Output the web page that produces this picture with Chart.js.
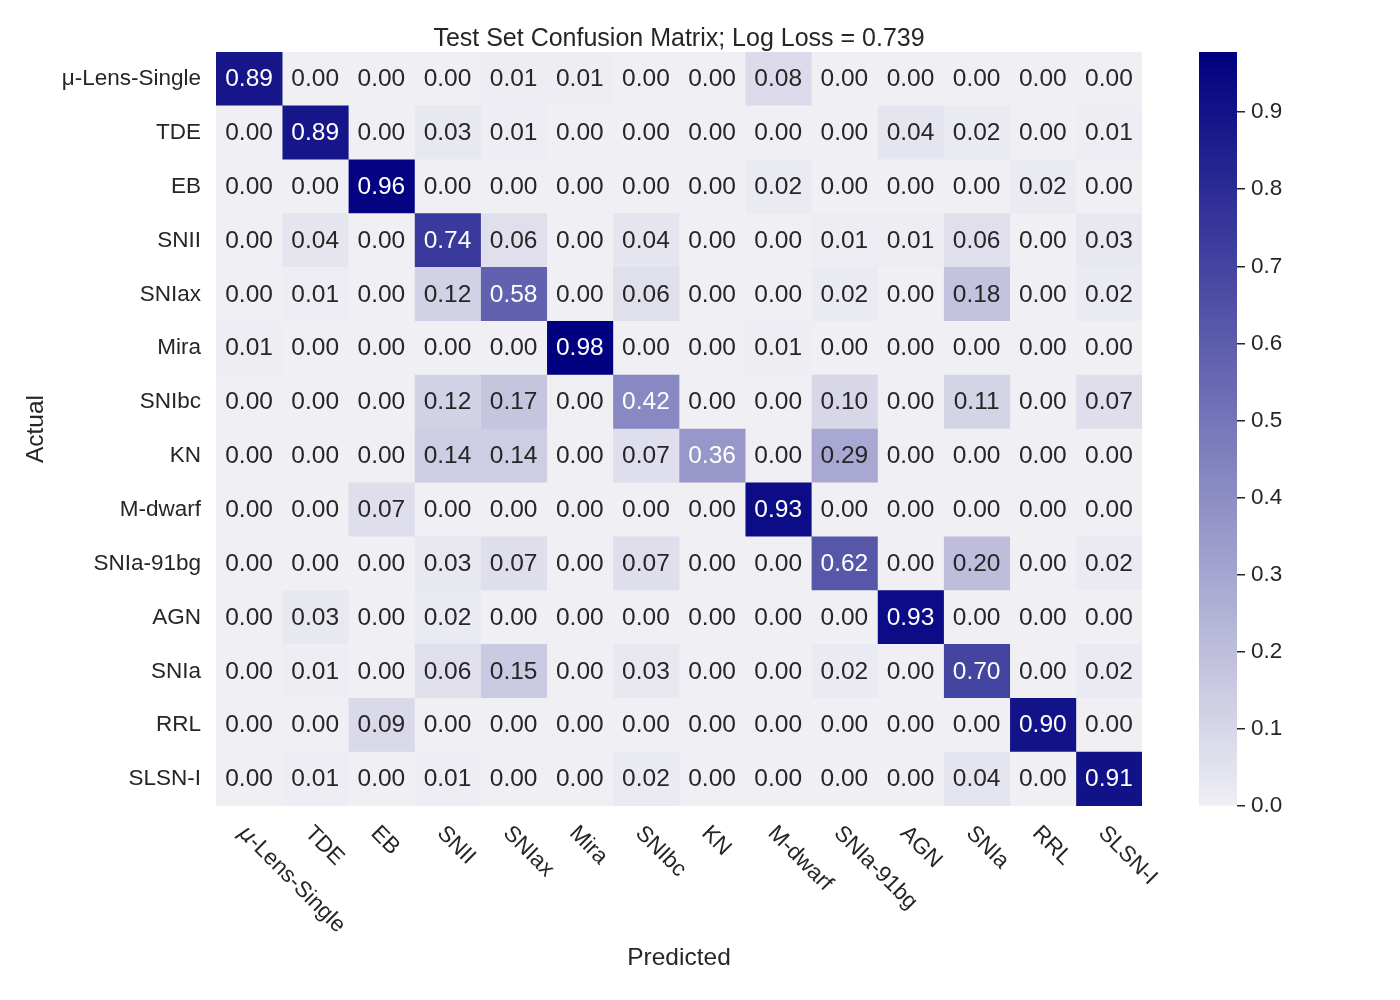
<!DOCTYPE html>
<html>
<head>
<meta charset="utf-8">
<script src="https://cdn.jsdelivr.net/npm/chart.js"></script>
<style>
  body { margin: 0; background: #fff; }
  #wrap { position: relative; width: 1400px; height: 1000px; }
  #heat { position: absolute; left: 0; top: 0; }
  #cbar { position: absolute; left: 1150px; top: 0; }
</style>
</head>
<body>
<div id="wrap">
  <canvas id="heat" width="1400" height="1000"></canvas>
  <canvas id="cbar" width="250" height="1000"></canvas>
</div>
<script>
const classes = ["μ-Lens-Single", "TDE", "EB", "SNII", "SNIax", "Mira", "SNIbc",
  "KN", "M-dwarf", "SNIa-91bg", "AGN", "SNIa", "RRL", "SLSN-I"];

// one row per actual class, columns = predicted class
const rowMuLens  = [0.89, 0.00, 0.00, 0.00, 0.01, 0.01, 0.00, 0.00, 0.08, 0.00, 0.00, 0.00, 0.00, 0.00];
const rowTDE     = [0.00, 0.89, 0.00, 0.03, 0.01, 0.00, 0.00, 0.00, 0.00, 0.00, 0.04, 0.02, 0.00, 0.01];
const rowEB      = [0.00, 0.00, 0.96, 0.00, 0.00, 0.00, 0.00, 0.00, 0.02, 0.00, 0.00, 0.00, 0.02, 0.00];
const rowSNII    = [0.00, 0.04, 0.00, 0.74, 0.06, 0.00, 0.04, 0.00, 0.00, 0.01, 0.01, 0.06, 0.00, 0.03];
const rowSNIax   = [0.00, 0.01, 0.00, 0.12, 0.58, 0.00, 0.06, 0.00, 0.00, 0.02, 0.00, 0.18, 0.00, 0.02];
const rowMira    = [0.01, 0.00, 0.00, 0.00, 0.00, 0.98, 0.00, 0.00, 0.01, 0.00, 0.00, 0.00, 0.00, 0.00];
const rowSNIbc   = [0.00, 0.00, 0.00, 0.12, 0.17, 0.00, 0.42, 0.00, 0.00, 0.10, 0.00, 0.11, 0.00, 0.07];
const rowKN      = [0.00, 0.00, 0.00, 0.14, 0.14, 0.00, 0.07, 0.36, 0.00, 0.29, 0.00, 0.00, 0.00, 0.00];
const rowMdwarf  = [0.00, 0.00, 0.07, 0.00, 0.00, 0.00, 0.00, 0.00, 0.93, 0.00, 0.00, 0.00, 0.00, 0.00];
const rowSNIa91  = [0.00, 0.00, 0.00, 0.03, 0.07, 0.00, 0.07, 0.00, 0.00, 0.62, 0.00, 0.20, 0.00, 0.02];
const rowAGN     = [0.00, 0.03, 0.00, 0.02, 0.00, 0.00, 0.00, 0.00, 0.00, 0.00, 0.93, 0.00, 0.00, 0.00];
const rowSNIa    = [0.00, 0.01, 0.00, 0.06, 0.15, 0.00, 0.03, 0.00, 0.00, 0.02, 0.00, 0.70, 0.00, 0.02];
const rowRRL     = [0.00, 0.00, 0.09, 0.00, 0.00, 0.00, 0.00, 0.00, 0.00, 0.00, 0.00, 0.00, 0.90, 0.00];
const rowSLSN    = [0.00, 0.01, 0.00, 0.01, 0.00, 0.00, 0.02, 0.00, 0.00, 0.00, 0.00, 0.04, 0.00, 0.91];

const confusion = [rowMuLens, rowTDE, rowEB, rowSNII, rowSNIax, rowMira, rowSNIbc,
  rowKN, rowMdwarf, rowSNIa91, rowAGN, rowSNIa, rowRRL, rowSLSN];

const titleText = "Test Set Confusion Matrix; Log Loss = 0.739";
const colorMax = 0.978; // top of the colour bar

const font = "'Liberation Sans', Arial, sans-serif";
const ink = "#262626";
const light = [239, 239, 244];
const navy = [0, 0, 128];

Chart.defaults.font.family = font;
Chart.defaults.color = ink;

function cellRgb(v) {
  const t = Math.min(Math.max(v / colorMax, 0), 1);
  return light.map((c, k) => Math.round(c + (navy[k] - c) * t));
}
function css(rgb) {
  return "rgb(" + rgb.join(",") + ")";
}
// same rule seaborn uses for annotation colour
function textColor(rgb) {
  const lin = rgb.map((c) => {
    c /= 255;
    return c <= 0.03928 ? c / 12.92 : Math.pow((c + 0.055) / 1.055, 2.4);
  });
  const lum = 0.2126 * lin[0] + 0.7152 * lin[1] + 0.0722 * lin[2];
  return lum > 0.408 ? ink : "#ffffff";
}

// one dataset per predicted column, one floating bar per actual row
const datasets = classes.map((name, j) => ({
  label: name,
  data: classes.map(() => [j, j + 1]),
  backgroundColor: confusion.map((row) => css(cellRgb(row[j]))),
  borderWidth: 0,
  barPercentage: 1,
  categoryPercentage: 1,
  grouped: false,
}));

const heatText = {
  id: "heatText",
  afterDatasetsDraw(chart) {
    const ctx = chart.ctx;
    ctx.save();
    ctx.font = "24.5px " + font;
    ctx.textAlign = "center";
    ctx.textBaseline = "middle";
    chart.data.datasets.forEach((ds, j) => {
      chart.getDatasetMeta(j).data.forEach((bar, i) => {
        const v = confusion[i][j];
        const p = bar.getCenterPoint();
        ctx.fillStyle = textColor(cellRgb(v));
        ctx.fillText(v.toFixed(2), p.x, p.y + 0.5);
      });
    });
    ctx.restore();
  },
  afterDraw(chart) {
    const { ctx, chartArea, scales } = chart;
    const midX = (chartArea.left + chartArea.right) / 2;
    ctx.save();
    ctx.fillStyle = ink;
    ctx.textAlign = "center";
    ctx.textBaseline = "alphabetic";
    ctx.font = "25px " + font;
    ctx.fillText(titleText, midX, 46);
    ctx.font = "24.5px " + font;
    ctx.fillText("Predicted", midX, 965);

    // rotated x tick labels, going down to the right
    ctx.textAlign = "left";
    classes.forEach((name, j) => {
      const x = scales.x.getPixelForValue(j + 0.5);
      ctx.save();
      ctx.translate(x, chartArea.bottom + 17);
      ctx.rotate(Math.PI / 4);
      let rest = name;
      let off = 0;
      if (name.startsWith("μ")) {
        ctx.font = "italic 22px 'DejaVu Sans', sans-serif";
        ctx.fillText("μ", 0, 16);
        off = ctx.measureText("μ").width;
        rest = name.slice(1);
      }
      ctx.font = "22.5px " + font;
      ctx.fillText(rest, off, 16);
      ctx.restore();
    });
    ctx.restore();
  },
};

new Chart(document.getElementById("heat"), {
  type: "bar",
  data: { labels: classes, datasets: datasets },
  options: {
    indexAxis: "y",
    responsive: false,
    animation: false,
    layout: { padding: { left: 18, top: 52, right: 258, bottom: 194 } },
    plugins: { legend: { display: false }, tooltip: { enabled: false } },
    scales: {
      x: { type: "linear", min: 0, max: classes.length, display: false },
      y: {
        type: "category",
        grid: { display: false, drawTicks: false },
        border: { display: false },
        ticks: { font: { size: 22.5 }, color: ink, padding: 15 },
        title: { display: true, text: "Actual", font: { size: 24.5 }, color: ink, padding: { top: 4, bottom: 4 } },
        afterFit(scale) { scale.width = 198; },
      },
    },
  },
  plugins: [heatText],
});

// colour bar
new Chart(document.getElementById("cbar"), {
  type: "bar",
  data: {
    labels: [""],
    datasets: [{
      data: [[0, colorMax]],
      borderWidth: 0,
      barPercentage: 1,
      categoryPercentage: 1,
      backgroundColor(context) {
        const area = context.chart.chartArea;
        if (!area) return css(light);
        const g = context.chart.ctx.createLinearGradient(0, area.bottom, 0, area.top);
        g.addColorStop(0, css(light));
        g.addColorStop(1, css(navy));
        return g;
      },
    }],
  },
  options: {
    responsive: false,
    animation: false,
    layout: { padding: { left: 49, top: 52, right: 0, bottom: 194 } },
    plugins: { legend: { display: false }, tooltip: { enabled: false } },
    scales: {
      x: { display: false },
      y: {
        position: "right",
        min: 0,
        max: colorMax,
        border: { display: false },
        grid: { display: true, drawOnChartArea: false, drawTicks: true, tickLength: 8, color: ink, lineWidth: 1.5 },
        ticks: {
          stepSize: 0.1,
          includeBounds: false,
          font: { size: 22.5 },
          color: ink,
          padding: 6,
          callback: (v) => v.toFixed(1),
        },
        afterFit(scale) { scale.width = 163; },
      },
    },
  },
});
</script>
</body>
</html>
